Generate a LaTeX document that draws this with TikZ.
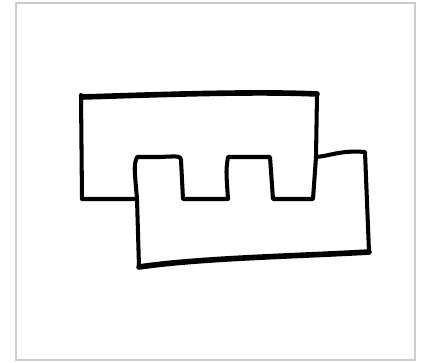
\documentclass[tikz,border=0pt]{standalone}
\usepackage{tikz}
\begin{document}
\begin{tikzpicture}[x=0.02cm,y=-0.02cm,
  ink/.style={draw=black,line width=2.3pt,line join=round,line cap=round},
  heavy/.style={ink,line width=3.2pt},
  frame/.style={draw=black!20,line width=0.6pt}]
  \useasboundingbox (0,0) rectangle (429,362);
  \draw[frame] (16,3) rectangle (415,360);
  % upper block, only the parts left in view
  \draw[ink] (137,199) -- (82,199) -- (81,95);
  \draw[heavy] (82,97) .. controls (150,95) and (250,91) .. (317,94);
  \draw[ink] (317,94) -- (316,157);
  % lower block with its teeth
  \draw[ink] (316,157) -- (313,199) -- (273,199) -- (270,157) -- (228,157)
    .. controls (226,170) .. (228,199) -- (183,199) -- (181,160)
    .. controls (180,156) .. (160,157) -- (137,157)
    .. controls (134,165) .. (137,199) -- (139,267);
  \draw[ink] (316,157) .. controls (330,156) and (340,150) .. (365,152)
    -- (369,252);
  \draw[heavy] (369,252) .. controls (300,256) and (200,258) .. (139,267);
\end{tikzpicture}
\end{document}
